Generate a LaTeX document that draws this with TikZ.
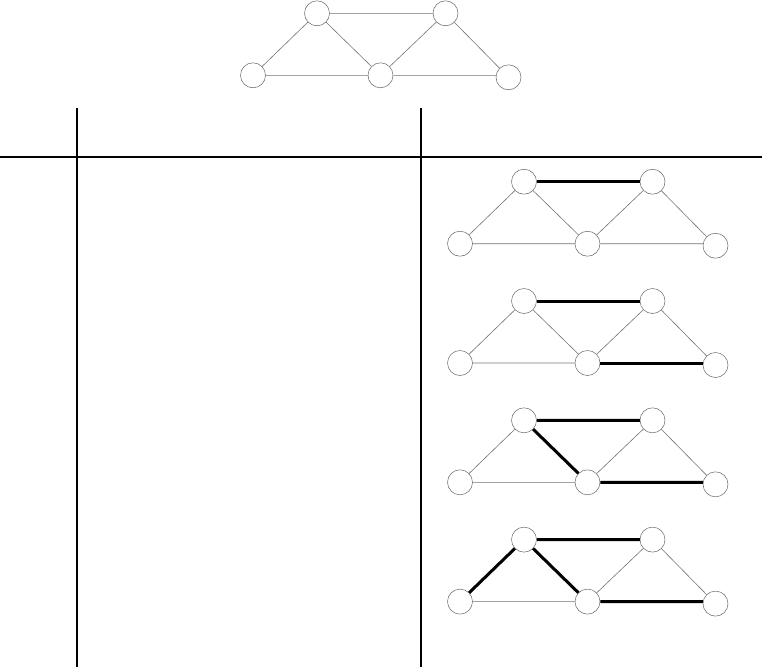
\documentclass[tikz,border=0pt]{standalone}
\tikzset{
  vert/.style={circle,draw=black!60,line width=0.5pt,minimum size=25pt,inner sep=0pt,fill=white},
  thinedge/.style={draw=black!55,line width=0.6pt},
  boldedge/.style={draw=black,line width=3pt},
  rulel/.style={draw=black,line width=2pt}
}
\newcommand\mygraph[3]{%
  \begin{scope}[shift={(#2,#3)}]
    \node[vert] (#1a) at (0,0) {};
    \node[vert] (#1b) at (128.5,0) {};
    \node[vert] (#1c) at (-64,62) {};
    \node[vert] (#1d) at (63.5,62) {};
    \node[vert] (#1e) at (191.5,64) {};
  \end{scope}
  \draw[thinedge] (#1a)--(#1b) (#1a)--(#1c) (#1a)--(#1d) (#1b)--(#1d) (#1b)--(#1e) (#1c)--(#1d) (#1d)--(#1d -| #1e.west);
}
\begin{document}
\begin{tikzpicture}[x=1pt,y=-1pt]
\useasboundingbox (0,0) rectangle (762,670);
% top graph
\mygraph{t}{317}{13.3}
% table rules
\coordinate (hl) at (0,157);
\coordinate (hr) at (762,157);
\coordinate (v1t) at (77,108);
\coordinate (v1b) at (77,667);
\coordinate (v2t) at (421,108);
\coordinate (v2b) at (421,667);
\draw[rulel] (hl)--(hr);
\draw[rulel] (v1t)--(v1b);
\draw[rulel] (v2t)--(v2b);
% rows
\mygraph{p}{524}{181.7}
\draw[boldedge] (pa)--(pb);
\mygraph{q}{524}{301}
\draw[boldedge] (qa)--(qb) (qd)--(qd -| qe.west);
\mygraph{r}{524}{420.3}
\draw[boldedge] (ra)--(rb) (ra)--(rd) (rd)--(rd -| re.west);
\mygraph{s}{524}{539.6}
\draw[boldedge] (sa)--(sb) (sa)--(sd) (sd)--(sd -| se.west) (sa)--(sc);
\end{tikzpicture}
\end{document}
